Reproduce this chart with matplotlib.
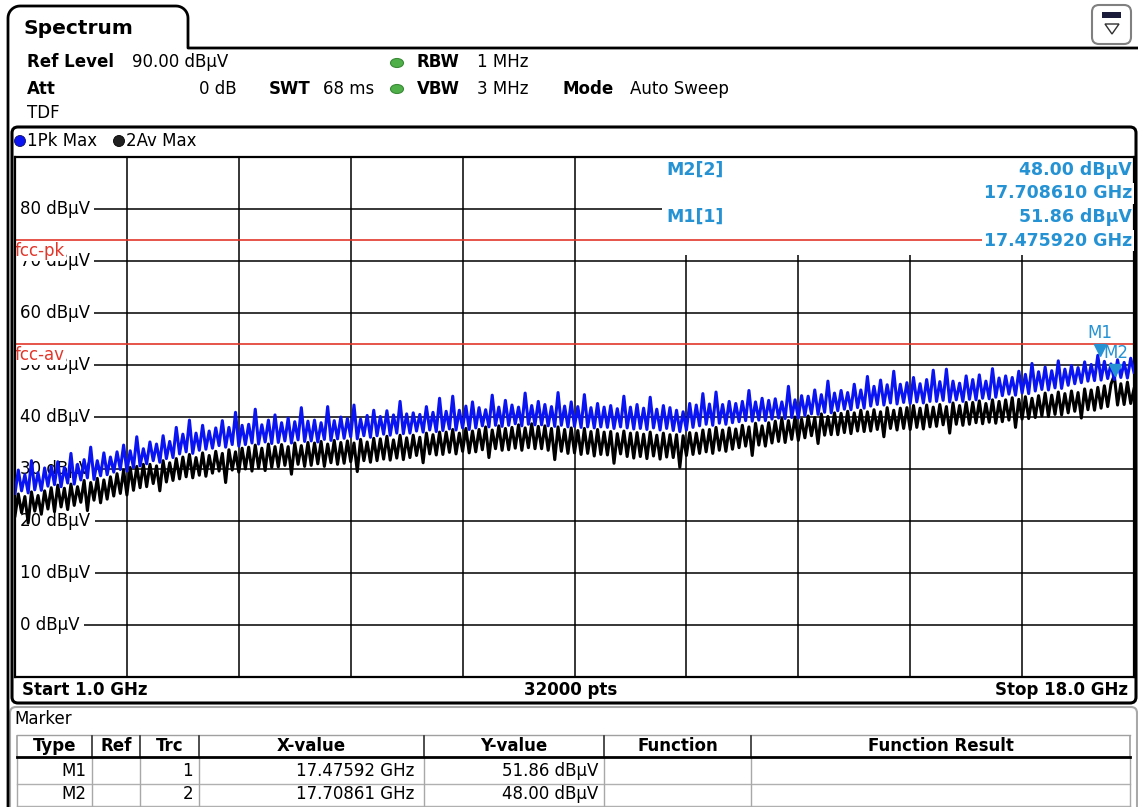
import numpy as np
import matplotlib.pyplot as plt
from matplotlib.patches import FancyBboxPatch, Rectangle, Ellipse, Polygon
from matplotlib.transforms import offset_copy

W, H = 1138, 807

# Sweep settings
f_start, f_stop = 1.0, 18.0
ref_level, bottom_level = 90.0, -10.0

# Trace 1 (Pk Max) and trace 2 (Av Max) in dBuV, one value every 50 MHz
pk_max = [
    25.3, 29.8, 25.8, 28.9, 25.4, 31.6, 26.0, 29.3, 25.9, 30.2,
    26.7, 30.5, 27.0, 31.4, 26.6, 30.3, 27.3, 33.0, 27.1, 30.9,
    27.9, 31.8, 28.3, 34.2, 28.0, 31.6, 28.7, 33.1, 28.9, 32.3,
    29.4, 33.3, 29.9, 34.6, 29.6, 33.5, 30.3, 36.2, 30.6, 33.9,
    31.0, 35.2, 31.6, 34.8, 31.3, 36.4, 32.0, 35.3, 32.2, 38.0,
    32.9, 36.7, 33.3, 39.4, 33.0, 36.9, 33.6, 38.4, 33.8, 37.3,
    34.0, 37.9, 34.5, 39.3, 34.2, 38.0, 34.7, 40.9, 34.4, 38.4,
    34.7, 38.6, 35.0, 41.5, 34.8, 38.5, 35.2, 39.4, 34.9, 40.4,
    35.1, 38.9, 35.4, 39.8, 35.0, 39.1, 35.6, 41.8, 35.3, 39.2,
    35.4, 39.4, 35.2, 38.9, 35.7, 42.0, 35.5, 39.3, 35.8, 40.0,
    35.9, 39.7, 36.2, 42.3, 35.8, 39.6, 36.4, 40.3, 36.1, 41.3,
    36.4, 40.1, 36.7, 41.2, 36.5, 40.4, 36.9, 43.0, 36.8, 40.6,
    36.9, 40.8, 37.3, 40.5, 37.1, 42.0, 37.5, 40.9, 37.2, 43.6,
    37.4, 41.1, 37.7, 44.0, 37.5, 41.3, 37.9, 42.1, 37.6, 42.9,
    37.9, 41.8, 38.3, 41.4, 38.1, 44.2, 38.4, 41.9, 38.2, 43.2,
    38.4, 42.3, 38.7, 41.9, 38.3, 44.6, 38.6, 42.2, 38.5, 43.0,
    38.5, 42.4, 38.3, 42.0, 38.2, 44.7, 38.4, 42.1, 38.1, 42.9,
    38.2, 42.0, 38.0, 44.3, 38.1, 41.8, 37.9, 42.6, 38.1, 41.9,
    38.0, 42.2, 37.8, 41.6, 38.1, 44.0, 37.9, 41.9, 37.7, 42.4,
    37.8, 41.7, 37.6, 43.8, 37.9, 41.5, 37.5, 42.2, 37.8, 41.8,
    37.4, 41.3, 37.2, 41.0, 37.5, 42.6, 38.0, 42.3, 38.3, 44.5,
    38.6, 42.5, 38.4, 44.8, 38.8, 42.4, 38.6, 43.0, 38.9, 42.6,
    39.1, 43.0, 39.3, 45.1, 39.2, 42.9, 39.4, 43.6, 39.3, 43.2,
    39.6, 43.5, 39.8, 42.9, 39.7, 45.9, 39.9, 43.3, 39.8, 44.1,
    40.3, 44.0, 40.6, 45.2, 40.5, 44.3, 40.9, 46.9, 40.8, 44.6,
    41.2, 45.1, 41.5, 44.7, 41.4, 46.3, 41.8, 45.2, 41.7, 47.8,
    42.1, 45.9, 42.4, 47.1, 42.3, 46.2, 42.7, 48.8, 42.5, 46.3,
    42.8, 46.6, 42.6, 47.6, 42.9, 46.4, 42.7, 47.2, 43.0, 49.0,
    43.0, 46.8, 43.2, 49.2, 42.9, 46.9, 43.3, 46.5, 43.0, 47.9,
    43.4, 47.2, 43.3, 48.1, 43.6, 46.9, 43.5, 49.3, 43.8, 47.5,
    44.1, 47.9, 44.4, 47.6, 44.2, 48.8, 44.6, 48.2, 44.5, 50.3,
    45.0, 48.7, 45.3, 49.6, 45.2, 48.9, 45.6, 50.8, 45.5, 49.2,
    46.1, 49.9, 46.4, 49.5, 46.6, 50.6, 46.9, 50.1, 47.0, 51.86,
    47.1, 50.7, 47.4, 50.2, 47.2, 51.0, 47.6, 50.5, 47.5, 51.3,
    48.6,
]
av_max = [
    21.0, 25.2, 21.6, 24.7, 19.6, 25.6, 21.9, 24.9, 21.3, 25.8,
    22.3, 26.4, 21.8, 26.9, 22.7, 26.3, 22.2, 27.1, 23.0, 26.6,
    23.6, 27.8, 22.0, 27.4, 24.0, 28.2, 23.5, 27.9, 24.2, 28.5,
    24.8, 29.1, 25.3, 29.8, 25.0, 30.3, 25.9, 30.5, 26.4, 30.9,
    26.6, 30.9, 27.2, 30.6, 25.8, 31.6, 27.5, 31.2, 27.8, 32.0,
    28.1, 32.3, 28.5, 32.8, 28.3, 32.2, 28.8, 33.1, 28.6, 32.6,
    29.2, 33.4, 29.6, 33.0, 27.4, 33.7, 29.8, 33.3, 29.4, 34.0,
    30.0, 34.2, 29.6, 34.6, 30.2, 34.0, 29.7, 34.8, 30.3, 34.3,
    30.4, 34.7, 30.7, 34.3, 29.0, 35.0, 30.9, 34.5, 30.5, 35.1,
    30.7, 35.0, 31.0, 35.3, 30.5, 34.8, 31.2, 35.5, 30.9, 35.1,
    31.1, 35.4, 31.4, 35.0, 29.5, 35.7, 31.6, 35.2, 31.3, 35.9,
    31.6, 35.8, 31.9, 36.3, 31.7, 35.6, 32.1, 36.5, 31.8, 36.0,
    32.2, 36.5, 32.6, 36.1, 31.2, 36.9, 32.9, 36.6, 32.7, 37.1,
    32.8, 37.1, 33.2, 37.6, 32.9, 36.9, 33.4, 37.8, 33.1, 37.3,
    33.3, 37.6, 33.7, 38.1, 32.2, 37.5, 33.9, 38.3, 33.6, 37.8,
    33.7, 38.0, 34.0, 38.5, 33.6, 37.9, 34.1, 38.7, 33.9, 38.2,
    33.9, 38.3, 33.6, 37.8, 31.8, 38.1, 33.4, 37.6, 33.0, 37.9,
    33.1, 37.4, 32.8, 37.8, 33.0, 37.2, 32.5, 37.6, 32.8, 37.1,
    32.7, 37.2, 31.1, 36.8, 32.9, 37.3, 32.4, 36.9, 32.1, 37.0,
    32.4, 36.7, 32.0, 37.1, 32.5, 36.5, 31.9, 36.9, 32.3, 36.6,
    32.2, 36.6, 30.3, 36.4, 32.6, 37.0, 32.8, 36.9, 33.0, 37.5,
    33.3, 37.6, 33.0, 38.0, 33.6, 37.5, 33.4, 37.9, 33.8, 37.7,
    34.1, 38.4, 34.4, 38.1, 32.6, 38.8, 34.6, 38.3, 34.4, 38.9,
    35.0, 39.2, 35.3, 39.7, 35.1, 39.3, 35.7, 40.0, 35.5, 39.6,
    36.0, 40.2, 36.4, 39.9, 34.9, 40.6, 36.5, 40.1, 36.6, 40.8,
    36.6, 40.7, 37.0, 41.1, 36.8, 40.8, 37.3, 41.3, 37.2, 41.0,
    37.3, 41.4, 37.6, 41.0, 36.2, 41.8, 37.8, 41.3, 37.5, 41.7,
    37.8, 41.8, 37.6, 42.2, 38.0, 41.7, 37.7, 42.3, 38.1, 41.9,
    38.2, 42.4, 38.5, 42.0, 36.9, 42.7, 38.6, 42.2, 38.4, 42.8,
    38.6, 42.8, 38.9, 43.1, 38.7, 42.6, 39.0, 43.3, 38.8, 43.0,
    39.1, 43.3, 39.4, 43.7, 38.0, 43.4, 39.6, 43.9, 39.7, 43.6,
    39.9, 44.1, 40.2, 44.6, 40.1, 44.2, 40.5, 44.8, 40.4, 44.5,
    40.8, 45.0, 41.1, 44.7, 39.8, 45.4, 41.4, 45.2, 41.3, 45.7,
    41.7, 46.0, 42.0, 46.3, 48.00, 42.3, 46.4, 42.4, 46.7, 42.6,
    45.4,
]

level_ticks = [80, 70, 60, 50, 40, 30, 20, 10, 0]

# FCC limit lines
limit_names = ["fcc-pk", "fcc-av"]
limit_levels = [74.0, 54.0]

# Markers
marker_names = ["M1", "M2"]
marker_traces = [1, 2]
marker_freqs = [17.47592, 17.70861]
marker_levels = [51.86, 48.00]

BLUE = "#0a14f2"
MK = "#2592d4"
RED = "#e2362a"
FS = 12

fig = plt.figure(figsize=(W / 100, H / 100), dpi=100)
fig.patch.set_facecolor("white")

# Screen furniture, laid out in pixels
ui = fig.add_axes([0, 0, 1, 1])
ui.set_xlim(0, W)
ui.set_ylim(H, 0)
ui.axis("off")


def arc(cx, cy, r, a0, a1):
    t = np.radians(np.linspace(a0, a1, 10))
    return list(cx + r * np.cos(t)), list(cy - r * np.sin(t))


# "Spectrum" tab
ax1, ay1 = arc(20, 18, 12, 180, 90)
ax2, ay2 = arc(176, 18, 12, 90, 0)
ui.plot([8] + ax1 + ax2 + [188, 188, W], [H] + ay1 + ay2 + [18, 48, 48],
        color="black", lw=2)
ui.text(24, 28, "Spectrum", fontsize=14.5, fontweight="bold", va="center")

# Settings icon, top right
ui.add_patch(FancyBboxPatch((1092, 5), 39, 39, boxstyle="round,pad=0,rounding_size=7",
                            fc="white", ec="#808080", lw=1.5))
ui.add_patch(Rectangle((1102, 12), 19, 6, fc="#1a1a3a", ec="none"))
ui.add_patch(Polygon([(1105, 24), (1119, 24), (1112, 34)], closed=True,
                     fill=False, ec="#303030", lw=1))

# Instrument settings
bold = dict(fontsize=FS, fontweight="bold", va="center")
norm = dict(fontsize=FS, va="center")
ui.text(27, 62, "Ref Level", **bold)
ui.text(132, 62, "90.00 dBµV", **norm)
ui.text(27, 89, "Att", **bold)
ui.text(237, 89, "0 dB", ha="right", **norm)
ui.text(269, 89, "SWT", **bold)
ui.text(323, 89, "68 ms", **norm)
ui.text(417, 62, "RBW", **bold)
ui.text(477, 62, "1 MHz", **norm)
ui.text(417, 89, "VBW", **bold)
ui.text(477, 89, "3 MHz", **norm)
ui.text(563, 89, "Mode", **bold)
ui.text(630, 89, "Auto Sweep", **norm)
ui.text(27, 113, "TDF", **norm)
for yy in (63, 89):
    ui.add_patch(Ellipse((397, yy), 13, 9, fc="#4fb04a", ec="#3a8a36", lw=0.8))

# Diagram frame with trace legend and sweep info
ui.add_patch(FancyBboxPatch((12, 127), 1124, 576, boxstyle="round,pad=0,rounding_size=6",
                            fill=False, ec="black", lw=2.2))
ui.add_patch(Ellipse((20, 141), 11, 11, fc=BLUE, ec="#101060", lw=0.6))
ui.text(27, 141, "1Pk Max", **norm)
ui.add_patch(Ellipse((119, 141), 11, 11, fc="#202020", ec="black", lw=0.6))
ui.text(126, 141, "2Av Max", **norm)
ui.text(22, 690, "Start 1.0 GHz", fontsize=12, fontweight="bold", va="center")
ui.text(571, 690, "32000 pts", fontsize=12, fontweight="bold", va="center", ha="center")
ui.text(1128, 690, "Stop 18.0 GHz", fontsize=12, fontweight="bold", va="center", ha="right")

# Marker table
ui.add_patch(FancyBboxPatch((10, 707), 1127, 120, boxstyle="round,pad=0,rounding_size=6",
                            fill=False, ec="#a8a8a8", lw=1.5))
ui.text(14, 719, "Marker", fontsize=12, va="center")
cols = [17, 92, 140, 199, 424, 604, 751, 1130]
heads = ["Type", "Ref", "Trc", "X-value", "Y-value", "Function", "Function Result"]
ui.plot([cols[0], cols[-1]], [735, 735], color="#a0a0a0", lw=1)
ui.plot([cols[0], cols[-1]], [784, 784], color="#b0b0b0", lw=1)
ui.plot([cols[0], cols[-1]], [806, 806], color="#b0b0b0", lw=1)
for i, c in enumerate(cols):
    ui.plot([c, c], [736, 757], color="#303030" if 0 < i < len(cols) - 1 else "#a0a0a0", lw=1.2)
    ui.plot([c, c], [757, 807], color="#a8a8a8", lw=1)
ui.plot([cols[0], cols[-1]], [757, 757], color="black", lw=2)
for h, c0, c1 in zip(heads, cols[:-1], cols[1:]):
    ui.text((c0 + c1) / 2, 746, h, fontsize=12, fontweight="bold", ha="center", va="center")
for k, (name, trc, f, lv) in enumerate(zip(marker_names, marker_traces, marker_freqs, marker_levels)):
    yy = 771 + 23 * k
    ui.text(cols[1] - 6, yy, name, ha="right", **norm)
    ui.text(cols[3] - 6, yy, str(trc), ha="right", **norm)
    ui.text(cols[4] - 10, yy, f"{f:.5f} GHz", ha="right", **norm)
    ui.text(cols[5] - 6, yy, f"{lv:.2f} dBµV", ha="right", **norm)

# Spectrum diagram
ax = fig.add_axes([15 / W, 1 - 677 / H, 1119 / W, 520 / H])
ax.set_xlim(f_start, f_stop)
ax.set_ylim(bottom_level, ref_level)
ax.set_xticks(np.linspace(f_start, f_stop, 11))
ax.set_yticks(np.arange(bottom_level, ref_level + 1, 10))
ax.tick_params(length=0, labelleft=False, labelbottom=False)
ax.set_axisbelow(True)
ax.grid(True, color="black", lw=1.1)
for s in ax.spines.values():
    s.set_linewidth(1.6)

for lv in level_ticks:
    ax.text(f_start + 0.08, lv, f"{lv} dBµV", fontsize=FS, va="center", ha="left", zorder=1.5,
            bbox=dict(boxstyle="square,pad=0.25", fc="white", ec="none"))

# Marker readout area hides the grid behind it
ax.add_patch(Rectangle(((662 - 15) / 1119, (677 - 255) / 520), 1 - (662 - 15) / 1119,
                       (255 - 157) / 520, transform=ax.transAxes, fc="white", ec="none", zorder=1.2))

for name, lv in zip(limit_names, limit_levels):
    ax.axhline(lv, color=RED, lw=1.2, zorder=2)
    ax.text(f_start, lv - 0.3, name, color=RED, fontsize=FS, va="top", ha="left", zorder=2.2,
            bbox=dict(boxstyle="square,pad=0.05", fc="white", ec="none"))

freq = np.linspace(f_start, f_stop, len(pk_max))
ax.plot(freq, av_max, color="black", lw=2.2, zorder=4)
ax.plot(freq, pk_max, color=BLUE, lw=2.2, zorder=4.5)

# Marker symbols with the tip on the marked level
tri = offset_copy(ax.transData, fig=fig, y=4, units="points")
for name, f, lv in zip(marker_names, marker_freqs, marker_levels):
    ax.plot([f], [lv], marker="v", ms=8, color=MK, transform=tri, zorder=6, clip_on=False)
    ax.annotate(name, (f, lv), xytext=(1 if name == "M2" else 0, 16), textcoords="offset points",
                ha="center", va="center", color=MK, fontsize=FS, zorder=6)

# Marker readouts, newest marker first
rb = dict(color=MK, fontsize=12.5, fontweight="bold", va="center", transform=ui.transData, zorder=7)
row_y = 170
for name, trc, f, lv in reversed(list(zip(marker_names, marker_traces, marker_freqs, marker_levels))):
    ax.text(666, row_y, f"{name}[{trc}]", **rb)
    ax.text(1132, row_y, f"{lv:.2f} dBµV", ha="right", **rb)
    ax.text(1132, row_y + 23.5, f"{f:.6f} GHz", ha="right",
            bbox=dict(boxstyle="square,pad=0.1", fc="white", ec="none"), **rb)
    row_y += 47

fig.savefig("out.png", dpi=100)
